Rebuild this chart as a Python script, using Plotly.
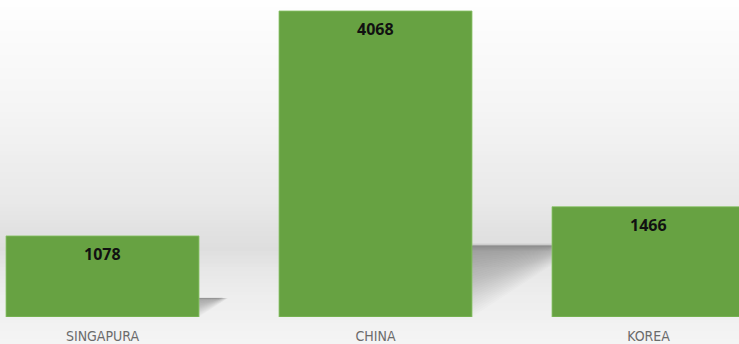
import plotly.graph_objects as go
import numpy as np

categories = ["SINGAPURA", "CHINA", "KOREA"]
values = [1078, 4068, 1466]
value_labels = ["1078", "4068", "1466"]

W, H = 739, 344
BOTTOM = 27
PLOT_H = H - BOTTOM
YMAX = 4214
XMIN, XMAX = -0.3755, 2.3315
BARW = 0.707

px_per_x = W / (XMAX - XMIN)
px_per_y = PLOT_H / YMAX

fig = go.Figure()
fig.add_trace(go.Bar(
    x=list(range(len(categories))), y=values, width=BARW,
    marker=dict(color="#67a242", line=dict(color="#8cc46a", width=0.8)),
    hoverinfo="skip", showlegend=False,
))

shapes = []
# background vertical gradient (pixel y from top -> gray level)
stops_px = [0, 100, 200, 240, 250, 270, 300, 344]
stops_g = [254, 246, 233, 224, 222, 231, 238, 244]
nb = 86
edges = np.linspace(0, H, nb + 1)
for a, b in zip(edges[:-1], edges[1:]):
    g = int(round(np.interp((a + b) / 2, stops_px, stops_g)))
    shapes.append(dict(type="rect", xref="paper", yref="paper", layer="below",
                       x0=-0.01, x1=1.01,
                       y0=(PLOT_H - b) / PLOT_H - 0.002, y1=(PLOT_H - a) / PLOT_H + 0.002,
                       fillcolor=f"rgb({g},{g},{g})", line=dict(width=0)))

# perspective shadows behind bars
for i, v in enumerate(values):
    R = i + BARW / 2
    ht = 0.235 * v
    dx = (ht * px_per_y / 0.65) / px_per_x
    n = 28
    for k in range(n):
        s = 1 - k / n
        y0 = ht - s * ht
        top = ht - 0.015 * ht * (k / n)
        x_end = R + dx * (0.8 + 0.2 * s)
        path = f"M {R},{y0} L {R},{top} L {x_end},{top} Z"
        shapes.append(dict(type="path", xref="x", yref="y", layer="below", path=path,
                           fillcolor="rgba(50,50,50,0.017)", line=dict(width=0)))
    # soft top edge
    for k in range(8):
        e = ht * (0.008 + 0.01 * k)
        path = f"M {R},{ht - e} L {R},{ht + e*0.35} L {R + dx*0.85},{ht + e*0.35} L {R + dx*0.7},{ht - e} Z"
        shapes.append(dict(type="path", xref="x", yref="y", layer="below", path=path,
                           fillcolor="rgba(50,50,50,0.015)", line=dict(width=0)))

annotations = []
for i, (v, t) in enumerate(zip(values, value_labels)):
    annotations.append(dict(x=i, y=v, xref="x", yref="y", text=f"<b>{t}</b>",
                            showarrow=False, yanchor="top", yshift=-5,
                            font=dict(family="Open Sans, DejaVu Sans", size=16, color="#111111")))

fig.update_layout(
    width=W, height=H,
    margin=dict(l=0, r=0, t=0, b=BOTTOM),
    paper_bgcolor="rgb(244,244,244)", plot_bgcolor="rgba(0,0,0,0)",
    shapes=shapes, annotations=annotations,
    xaxis=dict(range=[XMIN, XMAX], tickmode="array", tickvals=list(range(len(categories))),
               ticktext=categories, showgrid=False, zeroline=False, showline=False, ticks="",
               tickfont=dict(family="Liberation Sans Narrow, DejaVu Sans Condensed, sans-serif",
                             size=14, color="#6b6b6b"), ticklabelstandoff=9),
    yaxis=dict(range=[0, YMAX], visible=False, showgrid=False, zeroline=False),
    showlegend=False,
)

fig.write_html("out.html", config={"displayModeBar": False, "staticPlot": True},
               post_script="document.body.style.margin='0';document.body.style.overflow='hidden';")
